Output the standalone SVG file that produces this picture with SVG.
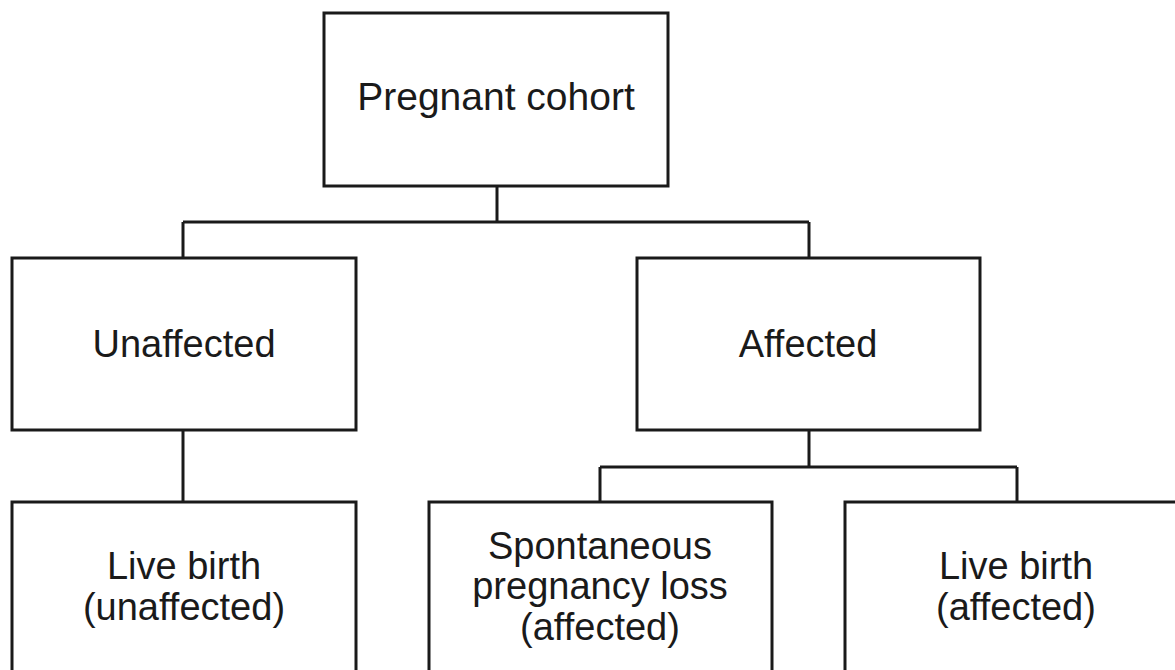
<svg xmlns="http://www.w3.org/2000/svg" width="1175" height="670" viewBox="0 0 1175 670">
<style>
.box{fill:#fff;stroke:#1a1a1a;stroke-width:3}
.ln{fill:none;stroke:#1a1a1a;stroke-width:3}
text{font-family:"Liberation Sans",Arial,sans-serif;font-size:38px;fill:#1a1a1a;text-anchor:middle}
</style>
<rect width="1175" height="670" fill="#fff"/>
<g id="connectors">
<path class="ln" d="M497 186V222M183 222H809M183 222V258M809 222V258"/>
<path class="ln" d="M183 430V502"/>
<path class="ln" d="M809 430V467M600 467H1017M600 467V502M1017 467V502"/>
</g>
<g id="n-cohort"><rect class="box" x="324" y="13" width="344" height="173"/><text x="496" y="110" style="font-size:39px">Pregnant cohort</text></g>
<g id="n-unaffected"><rect class="box" x="12" y="258" width="344" height="172"/><text x="184" y="357">Unaffected</text></g>
<g id="n-affected"><rect class="box" x="637" y="258" width="343" height="172"/><text x="808" y="357">Affected</text></g>
<g id="n-live-unaffected"><rect class="box" x="12" y="502" width="344" height="200"/><text x="184" y="579">Live birth</text><text x="184" y="620">(unaffected)</text></g>
<g id="n-loss"><rect class="box" x="429" y="502" width="343" height="200"/><text x="600" y="559">Spontaneous</text><text x="600" y="599">pregnancy loss</text><text x="600" y="640">(affected)</text></g>
<g id="n-live-affected"><rect class="box" x="845" y="502" width="343" height="200"/><text x="1016" y="579">Live birth</text><text x="1016" y="620">(affected)</text></g>
</svg>
